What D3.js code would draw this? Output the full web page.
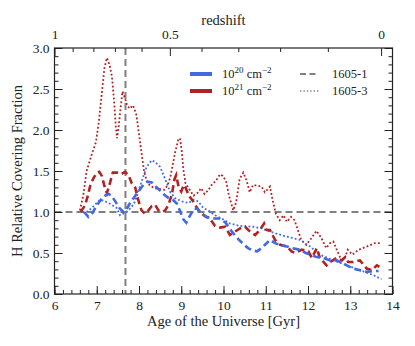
<!DOCTYPE html>
<html lang="en">
<head>
<meta charset="utf-8">
<title>H Relative Covering Fraction</title>
<script src="https://cdn.jsdelivr.net/npm/d3@7"></script>
<style>
  body { margin: 0; background: #fff; }
  svg text { font-family: "Liberation Serif", "DejaVu Serif", serif; fill: #222; }
  .axis path { display: none; }
  .axis line { stroke: #222; stroke-width: 1; }
</style>
</head>
<body>
<div id="chart"></div>
<script>

// --- data: [age in Gyr, covering fraction] ---
var dash20 = [[6.70,1.00],[6.80,0.94],[6.90,0.99],[7.00,1.08],[7.10,1.15],[7.20,1.20],[7.28,1.22],[7.35,1.20],[7.45,1.12],[7.55,1.04],[7.63,1.00],[7.70,1.03],[7.80,1.12],[7.90,1.19],[8.00,1.26],[8.10,1.33],[8.20,1.37],[8.30,1.36],[8.40,1.31],[8.50,1.26],[8.60,1.21],[8.70,1.17],[8.80,1.15],[8.90,1.10],[8.98,1.00],[9.05,0.91],[9.12,0.87],[9.21,0.96],[9.30,1.04],[9.38,1.04],[9.48,0.98],[9.60,0.94],[9.75,0.92],[9.90,0.92],[10.05,0.87],[10.20,0.76],[10.35,0.67],[10.45,0.62],[10.58,0.56],[10.70,0.53],[10.80,0.52],[10.90,0.56],[11.00,0.61],[11.10,0.66],[11.22,0.62],[11.34,0.60],[11.50,0.58],[11.61,0.56],[11.81,0.54],[11.95,0.50],[12.05,0.48],[12.21,0.45],[12.36,0.44],[12.52,0.41],[12.68,0.41],[12.84,0.37],[12.95,0.34],[13.07,0.31],[13.23,0.29],[13.39,0.27],[13.55,0.28],[13.67,0.28]];

var dash21 = [[6.62,1.00],[6.72,1.08],[6.78,1.18],[6.84,1.31],[6.92,1.41],[7.00,1.48],[7.06,1.49],[7.12,1.44],[7.18,1.32],[7.24,1.23],[7.30,1.33],[7.38,1.48],[7.48,1.48],[7.58,1.46],[7.67,1.49],[7.75,1.45],[7.83,1.35],[7.91,1.30],[7.98,1.15],[8.06,1.02],[8.14,0.98],[8.22,1.02],[8.30,1.07],[8.38,1.09],[8.46,1.02],[8.54,1.00],[8.62,1.02],[8.70,1.09],[8.78,1.22],[8.84,1.40],[8.88,1.45],[8.94,1.30],[9.00,1.25],[9.06,1.33],[9.10,1.30],[9.18,1.20],[9.28,1.13],[9.36,1.06],[9.44,1.00],[9.56,0.95],[9.68,0.92],[9.80,0.83],[9.92,0.81],[10.04,0.82],[10.15,0.72],[10.27,0.76],[10.39,0.80],[10.51,0.82],[10.63,0.76],[10.75,0.72],[10.86,0.78],[10.96,0.86],[11.02,0.78],[11.10,0.78],[11.22,0.66],[11.34,0.60],[11.50,0.58],[11.61,0.52],[11.69,0.50],[11.85,0.54],[12.01,0.52],[12.09,0.44],[12.17,0.52],[12.21,0.56],[12.28,0.44],[12.44,0.35],[12.52,0.39],[12.68,0.44],[12.80,0.41],[12.88,0.45],[12.95,0.39],[13.07,0.39],[13.23,0.41],[13.39,0.31],[13.51,0.29],[13.63,0.35],[13.69,0.33]];

var dot20 = [[6.66,1.00],[6.76,1.00],[6.86,1.04],[6.96,1.09],[7.08,1.15],[7.20,1.13],[7.35,1.09],[7.47,1.05],[7.55,0.96],[7.63,0.98],[7.75,1.02],[7.87,1.09],[7.95,1.19],[8.02,1.31],[8.10,1.43],[8.18,1.55],[8.30,1.63],[8.38,1.61],[8.50,1.55],[8.58,1.45],[8.66,1.35],[8.73,1.25],[8.85,1.17],[9.01,1.13],[9.17,1.11],[9.29,1.15],[9.40,1.13],[9.52,1.05],[9.64,1.02],[9.80,0.96],[9.96,0.92],[10.15,0.86],[10.39,0.83],[10.70,0.82],[10.90,0.80],[11.10,0.76],[11.30,0.73],[11.50,0.70],[11.81,0.66],[12.05,0.58],[12.28,0.48],[12.60,0.41],[12.92,0.35],[13.23,0.29],[13.55,0.23],[13.74,0.18]];

var dot21 = [[6.60,1.02],[6.68,1.20],[6.76,1.50],[6.88,1.70],[6.98,1.85],[7.05,2.10],[7.12,2.45],[7.18,2.75],[7.24,2.88],[7.30,2.80],[7.36,2.65],[7.41,2.35],[7.45,2.05],[7.48,1.90],[7.52,2.05],[7.56,2.25],[7.61,2.47],[7.66,2.40],[7.72,2.30],[7.78,2.26],[7.86,2.30],[7.94,2.18],[8.00,1.95],[8.06,1.72],[8.12,1.50],[8.18,1.38],[8.26,1.32],[8.38,1.29],[8.50,1.28],[8.60,1.27],[8.67,1.32],[8.74,1.42],[8.80,1.58],[8.86,1.74],[8.93,1.88],[8.97,1.90],[9.01,1.75],[9.05,1.52],[9.10,1.35],[9.20,1.27],[9.29,1.20],[9.38,1.23],[9.47,1.29],[9.55,1.22],[9.63,1.26],[9.72,1.33],[9.82,1.38],[9.92,1.46],[9.98,1.44],[10.06,1.38],[10.13,1.20],[10.23,1.02],[10.30,1.12],[10.38,1.40],[10.47,1.48],[10.55,1.38],[10.62,1.24],[10.70,1.33],[10.80,1.32],[10.90,1.31],[10.98,1.24],[11.05,1.28],[11.10,1.31],[11.16,1.15],[11.24,0.98],[11.33,0.90],[11.42,0.96],[11.50,0.88],[11.60,0.94],[11.68,0.90],[11.76,0.78],[11.84,0.66],[11.96,0.60],[12.08,0.68],[12.20,0.77],[12.32,0.68],[12.43,0.56],[12.52,0.62],[12.60,0.64],[12.68,0.54],[12.76,0.45],[12.86,0.42],[12.94,0.54],[13.05,0.48],[13.20,0.54],[13.40,0.58],[13.58,0.62],[13.70,0.62]];

// top axis: redshift labels and the age they sit at
var zMajor     = ["1", "0.5", "0"];
var zMajorAge  = [6.0, 8.73, 13.73];
var zMinorAge  = [6.43, 6.92, 7.43, 8.06, 9.48, 10.35, 11.34, 12.47];

var refAge = 7.68;   // vertical reference line
var refFrac = 1.0;   // horizontal reference line

var colors = { n20: "#4169e1", n21: "#b22222", ref: "#808080" };
var serif = "'Liberation Serif', 'DejaVu Serif', serif";

/*
 * Frame
 */

var W = 415, H = 346;
var margin = { top: 48, right: 22.5, bottom: 52, left: 54.5 };
var w = W - margin.left - margin.right,
    h = H - margin.top - margin.bottom;

var svg = d3.select("#chart").append("svg")
    .attr("width", W)
    .attr("height", H)
    .attr("font-family", serif);

var g = svg.append("g")
    .attr("transform", "translate(" + margin.left + "," + margin.top + ")");

var x = d3.scaleLinear().domain([6, 14]).range([0, w]);
var y = d3.scaleLinear().domain([0, 3]).range([h, 0]);

// reference lines first so curves sit on top
g.append("line")
  .attr("x1", 0).attr("x2", w)
  .attr("y1", y(refFrac)).attr("y2", y(refFrac))
  .attr("stroke", colors.ref).attr("stroke-width", 2)
  .attr("stroke-dasharray", "7,4");

g.append("line")
  .attr("x1", x(refAge)).attr("x2", x(refAge))
  .attr("y1", 0).attr("y2", h)
  .attr("stroke", colors.ref).attr("stroke-width", 2)
  .attr("stroke-dasharray", "7,4");

var line = d3.line()
    .x(function(d) { return x(d[0]); })
    .y(function(d) { return y(d[1]); });

function addCurve(data, color, dashed) {
  g.append("path")
    .datum(data)
    .attr("d", line)
    .attr("fill", "none")
    .attr("stroke", color)
    .attr("stroke-width", dashed ? 2.6 : 1.8)
    .attr("stroke-dasharray", dashed ? "7,4" : "1.8,2.2");
}

addCurve(dot21, colors.n21, false);
addCurve(dot20, colors.n20, false);
addCurve(dash21, colors.n21, true);
addCurve(dash20, colors.n20, true);

/*
 * Axes (ticks point inward)
 */

function fixFont(sel) {
  sel.attr("font-family", serif).attr("font-size", 13.5);
}

g.append("g").attr("class", "axis").attr("transform", "translate(0," + h + ")")
  .call(d3.axisBottom(x).tickValues(d3.range(6, 14.01, 1)).tickSize(-8).tickSizeOuter(0)
        .tickPadding(6).tickFormat(d3.format("d")))
  .call(fixFont);

g.append("g").attr("class", "axis").attr("transform", "translate(0," + h + ")")
  .call(d3.axisBottom(x).tickValues(d3.range(6, 14.01, 0.2)).tickSize(-4).tickSizeOuter(0).tickFormat(""));

g.append("g").attr("class", "axis")
  .call(d3.axisLeft(y).tickValues(d3.range(0, 3.01, 0.5)).tickSize(-8).tickSizeOuter(0)
        .tickPadding(5).tickFormat(d3.format(".1f")))
  .call(fixFont);

g.append("g").attr("class", "axis")
  .call(d3.axisLeft(y).tickValues(d3.range(0, 3.01, 0.1)).tickSize(-4).tickSizeOuter(0).tickFormat(""));

g.append("g").attr("class", "axis").attr("transform", "translate(" + w + ",0)")
  .call(d3.axisRight(y).tickValues(d3.range(0, 3.01, 0.5)).tickSize(-8).tickSizeOuter(0).tickFormat(""));

g.append("g").attr("class", "axis").attr("transform", "translate(" + w + ",0)")
  .call(d3.axisRight(y).tickValues(d3.range(0, 3.01, 0.1)).tickSize(-4).tickSizeOuter(0).tickFormat(""));

g.append("g").attr("class", "axis")
  .call(d3.axisTop(x).tickValues(zMajorAge).tickSize(-8).tickSizeOuter(0).tickPadding(9)
        .tickFormat(function(d, i) { return zMajor[i]; }))
  .call(fixFont);

g.append("g").attr("class", "axis")
  .call(d3.axisTop(x).tickValues(zMinorAge).tickSize(-4).tickSizeOuter(0).tickFormat(""));

g.append("rect")
  .attr("width", w).attr("height", h)
  .attr("fill", "none").attr("stroke", "#222").attr("stroke-width", 1.2);

// axis titles
svg.append("text")
  .attr("x", margin.left + w / 2).attr("y", 326)
  .attr("text-anchor", "middle").attr("font-size", 14.5)
  .text("Age of the Universe [Gyr]");

svg.append("text")
  .attr("x", margin.left + w / 2).attr("y", 25)
  .attr("text-anchor", "middle").attr("font-size", 14.5)
  .text("redshift");

svg.append("text")
  .attr("transform", "translate(22," + (margin.top + h / 2) + ") rotate(-90)")
  .attr("text-anchor", "middle").attr("font-size", 14.5)
  .text("H Relative Covering Fraction");

/*
 * Legend
 */

var leg = svg.append("g");

function colEntry(yy, color, exp) {
  leg.append("line")
    .attr("x1", 190).attr("x2", 212).attr("y1", yy).attr("y2", yy)
    .attr("stroke", color).attr("stroke-width", 4);
  var t = leg.append("text").attr("x", 222).attr("y", yy + 4).attr("font-size", 12.5);
  t.append("tspan").text("10");
  t.append("tspan").attr("dy", -5).attr("font-size", 9).text(exp);
  t.append("tspan").attr("dy", 5).text(" cm");
  t.append("tspan").attr("dy", -5).attr("font-size", 9).text("\u22122");
}

function styleEntry(yy, dash, label) {
  leg.append("line")
    .attr("x1", 300).attr("x2", 319).attr("y1", yy).attr("y2", yy)
    .attr("stroke", colors.ref).attr("stroke-width", dash === "dashed" ? 2 : 1.4)
    .attr("stroke-dasharray", dash === "dashed" ? "6,3.5" : "1.4,2");
  leg.append("text").attr("x", 332).attr("y", yy + 4).attr("font-size", 12.5).text(label);
}

colEntry(74, colors.n20, "20");
colEntry(91, colors.n21, "21");
styleEntry(74, "dashed", "1605-1");
styleEntry(91, "dotted", "1605-3");

</script>
</body>
</html>
